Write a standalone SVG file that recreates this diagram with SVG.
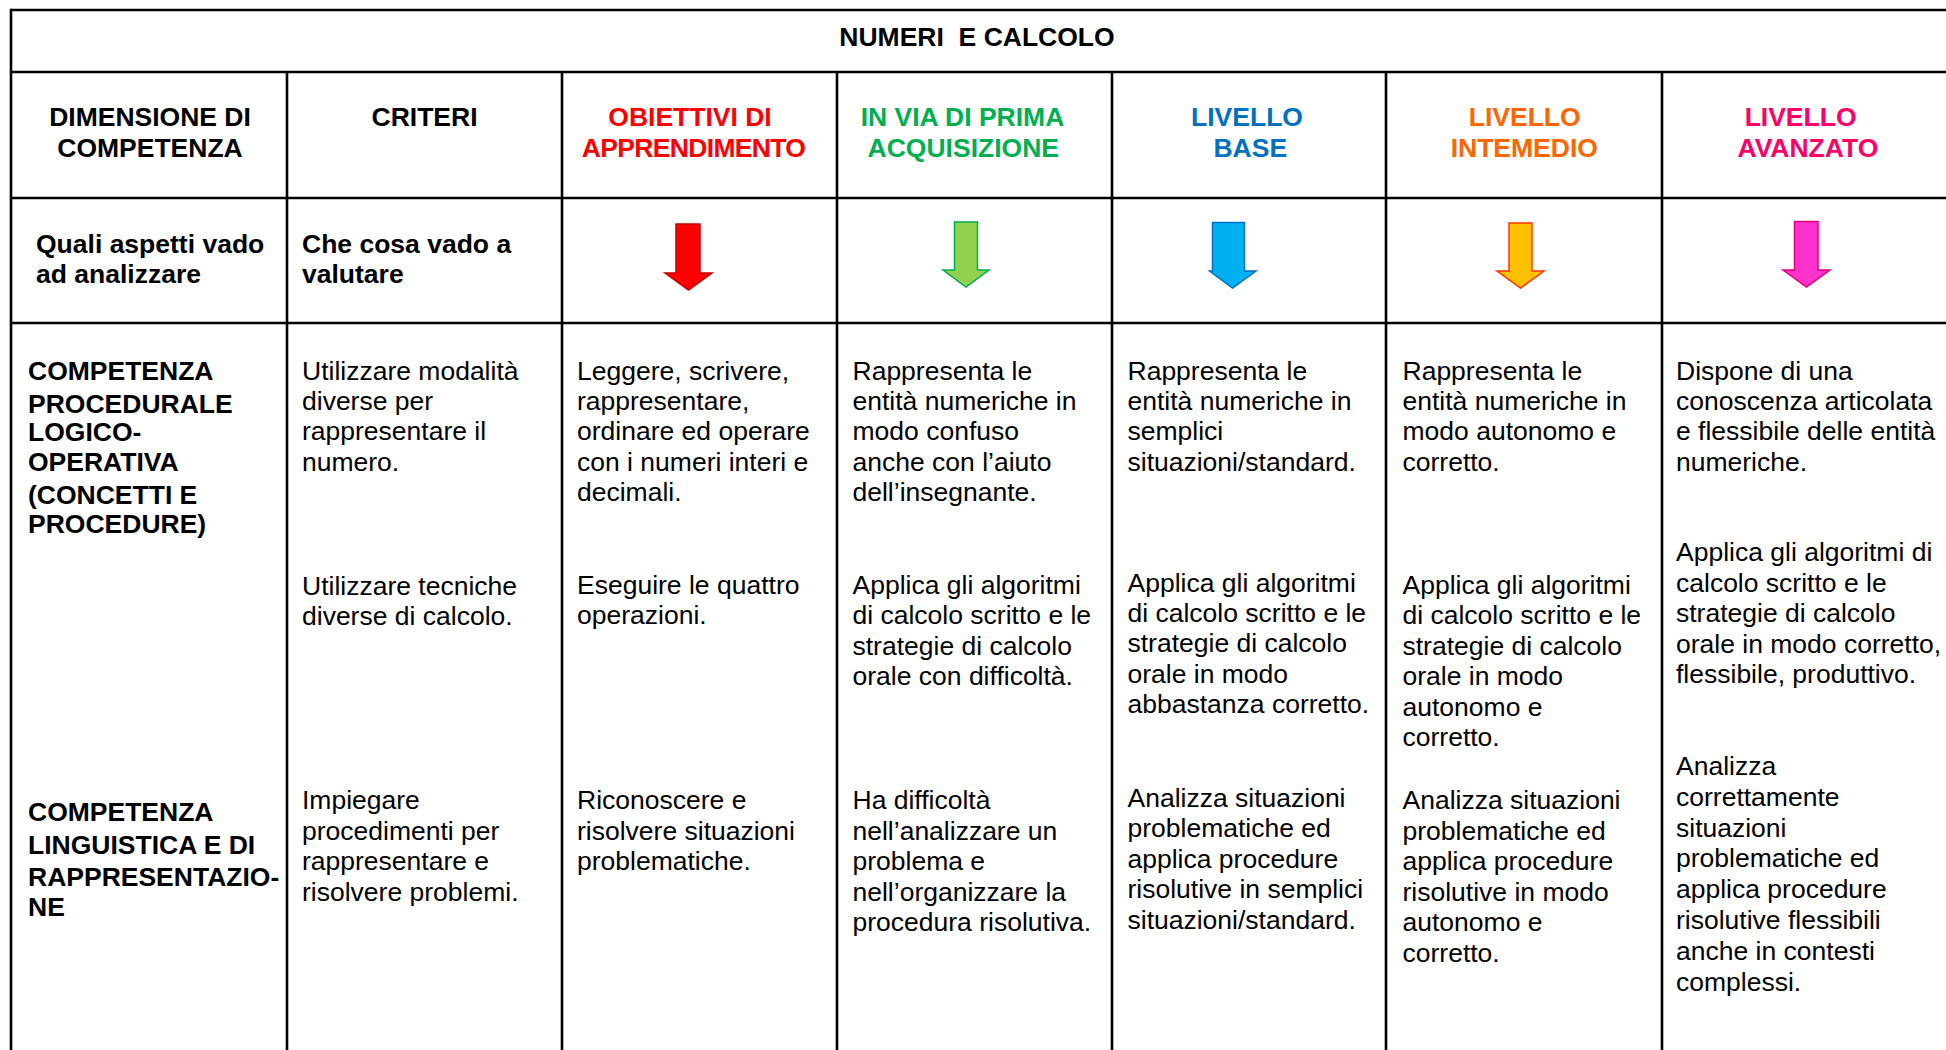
<svg xmlns="http://www.w3.org/2000/svg" width="1946" height="1050" viewBox="0 0 1946 1050">
<style>
  .t { font-family: "Liberation Sans", Arial, sans-serif; font-size: 26.5px; fill: #000; }
  .b { font-weight: bold; }
  .c { text-anchor: middle; }
  .grid line { stroke: #000; stroke-width: 2.6; }
  .red { fill: #ff0000; }
  .green { fill: #00b050; }
  .blue { fill: #0070c0; }
  .orange { fill: #ff6600; }
  .pink { fill: #ff0066; }
</style>
<rect x="0" y="0" width="1946" height="1050" fill="#ffffff"/>

<g id="connectors" class="grid">
  <line x1="11" y1="10" x2="1946" y2="10"/>
  <line x1="11" y1="72" x2="1946" y2="72"/>
  <line x1="11" y1="198" x2="1946" y2="198"/>
  <line x1="11" y1="323" x2="1946" y2="323"/>
  <line x1="11" y1="8.7" x2="11" y2="1050"/>
  <line x1="287" y1="72" x2="287" y2="1050"/>
  <line x1="562" y1="72" x2="562" y2="1050"/>
  <line x1="837" y1="72" x2="837" y2="1050"/>
  <line x1="1112" y1="72" x2="1112" y2="1050"/>
  <line x1="1386" y1="72" x2="1386" y2="1050"/>
  <line x1="1662" y1="72" x2="1662" y2="1050"/>
</g>

<g id="title">
  <text class="t b c" x="977" y="45.5" style="white-space:pre">NUMERI  E CALCOLO</text>
</g>

<g id="head-dimensione">
  <text class="t b c" x="150" y="126">DIMENSIONE DI</text>
  <text class="t b c" x="150" y="157">COMPETENZA</text>
</g>
<g id="head-criteri">
  <text class="t b c" x="424.5" y="126">CRITERI</text>
</g>
<g id="head-obiettivi">
  <text class="t b c red" x="690" y="126">OBIETTIVI DI</text>
  <text class="t b c red" x="693.5" y="157" letter-spacing="-0.65">APPRENDIMENTO</text>
</g>
<g id="head-prima">
  <text class="t b c green" x="962.5" y="126">IN VIA DI PRIMA</text>
  <text class="t b c green" x="963.3" y="157">ACQUISIZIONE</text>
</g>
<g id="head-base">
  <text class="t b c blue" x="1247" y="126">LIVELLO</text>
  <text class="t b c blue" x="1250.3" y="157">BASE</text>
</g>
<g id="head-intermedio">
  <text class="t b c orange" x="1524.7" y="126">LIVELLO</text>
  <text class="t b c orange" x="1524.3" y="157">INTEMEDIO</text>
</g>
<g id="head-avanzato">
  <text class="t b c pink" x="1800.6" y="126">LIVELLO</text>
  <text class="t b c pink" x="1807.9" y="157">AVANZATO</text>
</g>

<g id="row2-aspetti">
  <text class="t b" x="36" y="252.5">Quali aspetti vado</text>
  <text class="t b" x="36" y="283">ad analizzare</text>
</g>
<g id="row2-valutare">
  <text class="t b" x="302" y="252.5">Che cosa vado a</text>
  <text class="t b" x="302" y="283">valutare</text>
</g>

<g id="arrows">
  <polygon id="arrow-red" points="676,224 700,224 700,273 712,273 688.5,290 665,273 676,273" fill="#ff0000" stroke="#c00000" stroke-width="1.5" stroke-linejoin="miter"/>
  <polygon id="arrow-green" points="954.5,222 977.5,222 977.5,270 989,270 966,287 943,270 954.5,270" fill="#92d050" stroke="#00b050" stroke-width="1.5"/>
  <polygon id="arrow-blue" points="1212.5,222.5 1244.5,222.5 1244.5,271 1256,271 1232.5,288 1209.5,271 1212.5,271" fill="#00b0f0" stroke="#0070c0" stroke-width="1.5"/>
  <polygon id="arrow-orange" points="1509,223 1532,223 1532,271 1544,271 1520.5,288 1497,271 1509,271" fill="#ffc000" stroke="#ff3300" stroke-width="1.5"/>
  <polygon id="arrow-pink" points="1794.5,221.5 1818,221.5 1818,270 1830,270 1806.5,287 1783,270 1794.5,270" fill="#ff33cc" stroke="#e6007e" stroke-width="1.5"/>
</g>

<g id="dim-procedurale">
  <text class="t b" x="28" y="380">COMPETENZA</text>
  <text class="t b" x="28" y="412.5">PROCEDURALE</text>
  <text class="t b" x="28" y="441">LOGICO-</text>
  <text class="t b" x="28" y="471">OPERATIVA</text>
  <text class="t b" x="28" y="504">(CONCETTI E</text>
  <text class="t b" x="28" y="533">PROCEDURE)</text>
</g>
<g id="dim-linguistica">
  <text class="t b" x="28" y="821">COMPETENZA</text>
  <text class="t b" x="28" y="854">LINGUISTICA E DI</text>
  <text class="t b" x="28" y="886">RAPPRESENTAZIO-</text>
  <text class="t b" x="28" y="916">NE</text>
</g>

<g id="criteri-1">
  <text class="t" x="302" y="379.5">Utilizzare modalità<tspan x="302" dy="30.4">diverse per</tspan><tspan x="302" dy="30.4">rappresentare il</tspan><tspan x="302" dy="30.4">numero.</tspan></text>
</g>
<g id="criteri-2">
  <text class="t" x="302" y="594.5">Utilizzare tecniche<tspan x="302" dy="30.4">diverse di calcolo.</tspan></text>
</g>
<g id="criteri-3">
  <text class="t" x="302" y="809">Impiegare<tspan x="302" dy="30.6">procedimenti per</tspan><tspan x="302" dy="30.6">rappresentare e</tspan><tspan x="302" dy="30.6">risolvere problemi.</tspan></text>
</g>

<g id="obiettivi-1">
  <text class="t" x="577" y="379.5">Leggere, scrivere,<tspan x="577" dy="30.4">rappresentare,</tspan><tspan x="577" dy="30.4">ordinare ed operare</tspan><tspan x="577" dy="30.4">con i numeri interi e</tspan><tspan x="577" dy="30.4">decimali.</tspan></text>
</g>
<g id="obiettivi-2">
  <text class="t" x="577" y="594">Eseguire le quattro<tspan x="577" dy="30.4">operazioni.</tspan></text>
</g>
<g id="obiettivi-3">
  <text class="t" x="577" y="809">Riconoscere e<tspan x="577" dy="30.6">risolvere situazioni</tspan><tspan x="577" dy="30.6">problematiche.</tspan></text>
</g>

<g id="prima-1">
  <text class="t" x="852.5" y="379.5">Rappresenta le<tspan x="852.5" dy="30.4">entità numeriche in</tspan><tspan x="852.5" dy="30.4">modo confuso</tspan><tspan x="852.5" dy="30.4">anche con l’aiuto</tspan><tspan x="852.5" dy="30.4">dell’insegnante.</tspan></text>
</g>
<g id="prima-2">
  <text class="t" x="852.5" y="594">Applica gli algoritmi<tspan x="852.5" dy="30.4">di calcolo scritto e le</tspan><tspan x="852.5" dy="30.4">strategie di calcolo</tspan><tspan x="852.5" dy="30.4">orale con difficoltà.</tspan></text>
</g>
<g id="prima-3">
  <text class="t" x="852.5" y="809">Ha difficoltà<tspan x="852.5" dy="30.6">nell’analizzare un</tspan><tspan x="852.5" dy="30.6">problema e</tspan><tspan x="852.5" dy="30.6">nell’organizzare la</tspan><tspan x="852.5" dy="30.6">procedura risolutiva.</tspan></text>
</g>

<g id="base-1">
  <text class="t" x="1127.5" y="379.5">Rappresenta le<tspan x="1127.5" dy="30.4">entità numeriche in</tspan><tspan x="1127.5" dy="30.4">semplici</tspan><tspan x="1127.5" dy="30.4">situazioni/standard.</tspan></text>
</g>
<g id="base-2">
  <text class="t" x="1127.5" y="591.5">Applica gli algoritmi<tspan x="1127.5" dy="30.4">di calcolo scritto e le</tspan><tspan x="1127.5" dy="30.4">strategie di calcolo</tspan><tspan x="1127.5" dy="30.4">orale in modo</tspan><tspan x="1127.5" dy="30.4">abbastanza corretto.</tspan></text>
</g>
<g id="base-3">
  <text class="t" x="1127.5" y="806.5">Analizza situazioni<tspan x="1127.5" dy="30.6">problematiche ed</tspan><tspan x="1127.5" dy="30.6">applica procedure</tspan><tspan x="1127.5" dy="30.6">risolutive in semplici</tspan><tspan x="1127.5" dy="30.6">situazioni/standard.</tspan></text>
</g>

<g id="intermedio-1">
  <text class="t" x="1402.5" y="379.5">Rappresenta le<tspan x="1402.5" dy="30.4">entità numeriche in</tspan><tspan x="1402.5" dy="30.4">modo autonomo e</tspan><tspan x="1402.5" dy="30.4">corretto.</tspan></text>
</g>
<g id="intermedio-2">
  <text class="t" x="1402.5" y="594">Applica gli algoritmi<tspan x="1402.5" dy="30.4">di calcolo scritto e le</tspan><tspan x="1402.5" dy="30.4">strategie di calcolo</tspan><tspan x="1402.5" dy="30.4">orale in modo</tspan><tspan x="1402.5" dy="30.4">autonomo e</tspan><tspan x="1402.5" dy="30.4">corretto.</tspan></text>
</g>
<g id="intermedio-3">
  <text class="t" x="1402.5" y="809">Analizza situazioni<tspan x="1402.5" dy="30.6">problematiche ed</tspan><tspan x="1402.5" dy="30.6">applica procedure</tspan><tspan x="1402.5" dy="30.6">risolutive in modo</tspan><tspan x="1402.5" dy="30.6">autonomo e</tspan><tspan x="1402.5" dy="30.6">corretto.</tspan></text>
</g>

<g id="avanzato-1">
  <text class="t" x="1676" y="379.5">Dispone di una<tspan x="1676" dy="30.4">conoscenza articolata</tspan><tspan x="1676" dy="30.4">e flessibile delle entità</tspan><tspan x="1676" dy="30.4">numeriche.</tspan></text>
</g>
<g id="avanzato-2">
  <text class="t" x="1676" y="561">Applica gli algoritmi di<tspan x="1676" dy="30.6">calcolo scritto e le</tspan><tspan x="1676" dy="30.6">strategie di calcolo</tspan><tspan x="1676" dy="30.6">orale in modo corretto,</tspan><tspan x="1676" dy="30.6">flessibile, produttivo.</tspan></text>
</g>
<g id="avanzato-3">
  <text class="t" x="1676" y="775">Analizza<tspan x="1676" dy="30.8">correttamente</tspan><tspan x="1676" dy="30.8">situazioni</tspan><tspan x="1676" dy="30.8">problematiche ed</tspan><tspan x="1676" dy="30.8">applica procedure</tspan><tspan x="1676" dy="30.8">risolutive flessibili</tspan><tspan x="1676" dy="30.8">anche in contesti</tspan><tspan x="1676" dy="30.8">complessi.</tspan></text>
</g>
</svg>
